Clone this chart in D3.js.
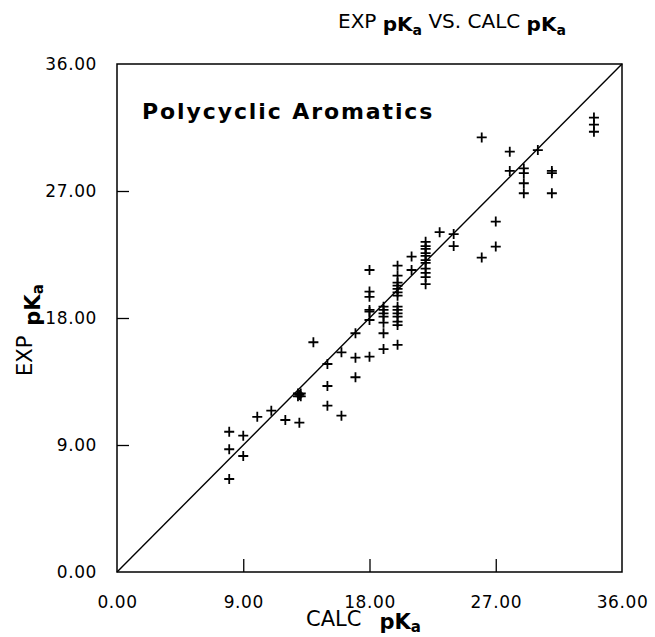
<!DOCTYPE html>
<html>
<head>
<meta charset="utf-8">
<script src="https://cdn.jsdelivr.net/npm/d3@7"></script>
<style>
  body { margin: 0; background: #fff; }
  text { font-family: "DejaVu Sans", "Liberation Sans", sans-serif; fill: #000; }
</style>
</head>
<body>
<div id="chart"></div>
<script>
var width = 655;
var height = 637;

// values
var calcPka = [
    8, 8, 8, 9, 9, 10, 11, 12,
    12.9, 13.1, 12.9, 13.1, 13, 13,
    14, 15, 15, 15, 16, 16, 17, 17, 17,
    18, 18, 18, 18, 18, 18, 18,
    19, 19, 19, 19, 19, 19, 19,
    20, 20, 20, 20, 20, 20, 20, 20, 20, 20, 20, 20, 20, 20,
    21, 21,
    22, 22, 22, 22, 22, 22, 22, 22, 22, 22, 22,
    23, 24, 24, 26, 26, 27, 27, 28, 28,
    29, 29, 29, 29, 30, 31, 31, 31, 34, 34, 34
];
var expPka = [
    9.94, 8.7, 6.59, 9.66, 8.22, 11.0, 11.43, 10.77,
    12.45, 12.45, 12.65, 12.65, 12.55, 10.58,
    16.28, 14.74, 13.18, 11.79, 15.57, 11.08, 16.92, 15.19, 13.8,
    21.4, 19.87, 19.5, 18.57, 18.45, 17.86, 15.26,
    18.8, 18.57, 18.33, 18.1, 17.67, 16.92, 15.8,
    21.71, 21.0, 20.5, 20.29, 20.06, 19.82, 19.58, 18.8, 18.57, 18.33, 18.1, 17.74, 17.5, 16.1,
    22.35, 21.4,
    23.4, 23.1, 22.9, 22.6, 22.4, 22.1, 21.9, 21.5, 21.2, 20.9, 20.4,
    24.08, 23.95, 23.1, 30.8, 22.28, 24.83, 23.06, 29.79, 28.42,
    28.6, 28.26, 27.55, 26.84, 29.9, 28.42, 28.26, 26.84, 32.2, 31.7, 31.2
];
var tickValues = [0, 9, 18, 27, 36];
var axisDomain = [0, 36];

var plotLeft = 117, plotRight = 622, plotTop = 64, plotBottom = 572;

var xScale = d3.scaleLinear().domain(axisDomain).range([plotLeft, plotRight]);
var yScale = d3.scaleLinear().domain(axisDomain).range([plotBottom, plotTop]);

var svg = d3.select("#chart").append("svg")
    .attr("width", width)
    .attr("height", height);

// frame
svg.append("rect")
    .attr("x", plotLeft).attr("y", plotTop)
    .attr("width", plotRight - plotLeft).attr("height", plotBottom - plotTop)
    .attr("fill", "none").attr("stroke", "#000").attr("stroke-width", 1.5);

// inward ticks on bottom and left
var xAxis = d3.axisBottom(xScale).tickValues(tickValues).tickSize(-13).tickFormat(d => d.toFixed(2)).tickPadding(24);
var yAxis = d3.axisLeft(yScale).tickValues(tickValues).tickSize(-12).tickFormat(d => d.toFixed(2)).tickPadding(20);

var gx = svg.append("g").attr("transform", `translate(0,${plotBottom})`).call(xAxis);
var gy = svg.append("g").attr("transform", `translate(${plotLeft},0)`).call(yAxis);

[gx, gy].forEach(g => {
    g.select(".domain").remove();
    g.selectAll("line").attr("stroke", "#000").attr("stroke-width", 1.3);
    g.selectAll("text")
        .attr("font-size", 17)
        .attr("font-family", "DejaVu Sans, sans-serif")
        .attr("letter-spacing", 0.6)
        .attr("fill", "#000");
});
// end ticks sit on the frame
gx.selectAll(".tick").filter(d => d === 0 || d === 36).select("line").remove();
gy.selectAll(".tick").filter(d => d === 0 || d === 36).select("line").remove();

// identity line
svg.append("line")
    .attr("x1", xScale(0)).attr("y1", yScale(0))
    .attr("x2", xScale(36)).attr("y2", yScale(36))
    .attr("stroke", "#000").attr("stroke-width", 1.4);

// points as plus signs
var points = calcPka.map((c, i) => ({ calc: c, exp: expPka[i] }));
svg.selectAll(".pt")
    .data(points)
    .enter().append("path")
    .attr("class", "pt")
    .attr("d", "M-5,0H5M0,-5V5")
    .attr("transform", d => `translate(${xScale(d.calc)},${yScale(d.exp)})`)
    .attr("stroke", "#000")
    .attr("stroke-width", 1.8)
    .attr("fill", "none");

// annotation
svg.append("text")
    .attr("x", 142).attr("y", 119)
    .attr("font-size", 22)
    .attr("font-weight", "bold")
    .attr("letter-spacing", 1.9)
    .text("Polycyclic Aromatics");

// title
var title = svg.append("text")
    .attr("x", 338).attr("y", 28)
    .attr("font-size", 20);
title.append("tspan").text("EXP ");
title.append("tspan").attr("font-weight", "bold").attr("dy", 3).text("pK");
title.append("tspan").attr("font-weight", "bold").attr("font-size", 14).attr("dy", 4).text("a");
title.append("tspan").attr("dy", -7).text(" VS. CALC ");
title.append("tspan").attr("font-weight", "bold").attr("dy", 3).text("pK");
title.append("tspan").attr("font-weight", "bold").attr("font-size", 14).attr("dy", 4).text("a");

// x label
var xl = svg.append("text")
    .attr("x", 306).attr("y", 626)
    .attr("font-size", 21);
xl.append("tspan").text("CALC");
xl.append("tspan").attr("font-weight", "bold").attr("dx", 18).attr("dy", 3).text("pK");
xl.append("tspan").attr("font-weight", "bold").attr("font-size", 15).attr("dy", 3).text("a");

// y label
var yl = svg.append("text")
    .attr("transform", "translate(32,376) rotate(-90)")
    .attr("font-size", 21);
yl.append("tspan").text("EXP");
yl.append("tspan").attr("font-weight", "bold").attr("dx", 10).attr("dy", 8).text("pK");
yl.append("tspan").attr("font-weight", "bold").attr("font-size", 15).attr("dy", 3).text("a");
</script>
</body>
</html>
